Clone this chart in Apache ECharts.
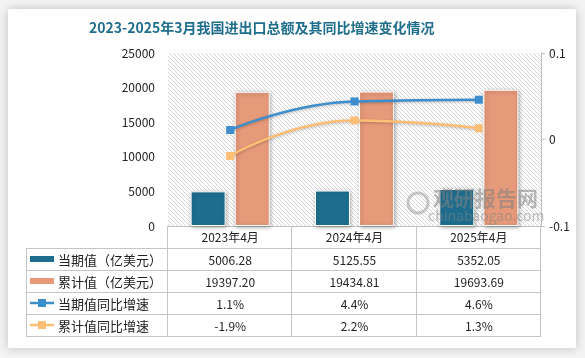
<!DOCTYPE html>
<html><head><meta charset="utf-8">
<script src="https://cdn.jsdelivr.net/npm/echarts@6/dist/echarts.min.js"></script>
<style>html,body{margin:0;padding:0;background:#fff}#c{width:585px;height:358px}</style>
</head><body><div id="c"></div>
<script>
const titleText = '2023-2025年3月我国进出口总额及其同比增速变化情况';
const categories = ['2023年4月', '2024年4月', '2025年4月'];
const seriesNames = ['当期值（亿美元）', '累计值（亿美元）', '当期值同比增速', '累计值同比增速'];
const currentValue = [5006.28, 5125.55, 5352.05];
const cumulativeValue = [19397.20, 19434.81, 19693.69];
const currentGrowth = [1.1, 4.4, 4.6];      // %
const cumulativeGrowth = [-1.9, 2.2, 1.3];  // %
const leftAxis = { min: 0, max: 25000, interval: 5000 };
const rightAxis = { min: -0.1, max: 0.1, interval: 0.1 };

const colors = ['#1E6D8F', '#E69A7A', '#3C8FCC', '#FFBE75'];
const font = '"Noto Sans CJK SC", "Noto Sans", sans-serif';

// hatch pattern
const pc = document.createElement('canvas');
pc.width = 4; pc.height = 4;
const pctx = pc.getContext('2d');
pctx.fillStyle = '#ffffff'; pctx.fillRect(0, 0, 4, 4);
pctx.fillStyle = '#d6d6d6';
for (let i = 0; i < 4; i++) pctx.fillRect(i, i, 1, 1);

const chart = echarts.init(document.getElementById('c'), null, { renderer: 'canvas' });
const G = { left: 168, right: 44, top: 53, bottom: 132 };
const option = {
  animation: false,
  backgroundColor: '#f4f4f4',
  title: {
    text: titleText, left: 89, top: 21, padding: 0,
    textStyle: { fontSize: 14, fontWeight: 'bold', color: '#1F6E8C', fontFamily: font }
  },
  grid: Object.assign({ show: true, borderWidth: 0, backgroundColor: { image: pc, repeat: 'repeat' } }, G),
  xAxis: {
    type: 'category', data: categories,
    axisLine: { show: true, lineStyle: { color: '#bfbfbf' } },
    axisTick: { show: false },
    axisLabel: { color: '#222', fontSize: 12, margin: 5, fontFamily: font }
  },
  yAxis: [
    {
      type: 'value', min: leftAxis.min, max: leftAxis.max, interval: leftAxis.interval,
      axisLine: { show: false }, axisTick: { show: false }, splitLine: { show: false },
      axisLabel: { color: '#222', fontSize: 12, margin: 13, fontFamily: font, formatter: v => String(v) }
    },
    {
      type: 'value', min: rightAxis.min, max: rightAxis.max, interval: rightAxis.interval,
      axisLine: { show: true, lineStyle: { color: '#bfbfbf' } },
      axisTick: { show: true, length: 4, lineStyle: { color: '#bfbfbf' } },
      splitLine: { show: false },
      axisLabel: { color: '#222', fontSize: 12, margin: 8, fontFamily: font,
        formatter: v => Math.abs(v) < 1e-9 ? '0' : String(Math.round(v * 10) / 10) }
    }
  ],
  series: [
    { name: seriesNames[0], type: 'bar', data: currentValue, barWidth: 35, barGap: '26%',
      itemStyle: { color: colors[0], borderColor: '#fff', borderWidth: 1, shadowBlur: 4, shadowColor: 'rgba(0,0,0,0.3)', shadowOffsetX: 1, shadowOffsetY: 1 } },
    { name: seriesNames[1], type: 'bar', data: cumulativeValue, barWidth: 35,
      itemStyle: { color: colors[1], borderColor: '#fff', borderWidth: 1, shadowBlur: 4, shadowColor: 'rgba(0,0,0,0.3)', shadowOffsetX: 1, shadowOffsetY: 1 } },
    { name: seriesNames[2], type: 'line', yAxisIndex: 1, smooth: true, data: currentGrowth.map(v => v / 100),
      symbol: 'rect', symbolSize: 8, itemStyle: { color: colors[2] },
      lineStyle: { color: colors[2], width: 2.5, shadowBlur: 3, shadowColor: 'rgba(0,0,0,0.25)', shadowOffsetY: 1 } },
    { name: seriesNames[3], type: 'line', yAxisIndex: 1, smooth: true, data: cumulativeGrowth.map(v => v / 100),
      symbol: 'rect', symbolSize: 8, itemStyle: { color: colors[3] },
      lineStyle: { color: colors[3], width: 2.5, shadowBlur: 3, shadowColor: 'rgba(0,0,0,0.25)', shadowOffsetY: 1 } }
  ]
};
chart.setOption(option);

// ---- table built from the arrays ----
const lineC = '#c4c4c4';
const plotL = G.left, plotR = 585 - G.right;
const tableTop = 358 - G.bottom;
const rowH = 22;
const headerB = tableTop + rowH;
const tableL = 26;
const rowsY = [headerB, headerB + rowH, headerB + 2 * rowH, headerB + 3 * rowH, headerB + 4 * rowH];
const tableB = rowsY[4];
const g = [];
// card
g.push({ type: 'rect', z: -10, shape: { x: 8, y: 9, width: 568, height: 339 },
  style: { fill: '#fff', shadowBlur: 10, shadowColor: 'rgba(0,0,0,0.22)' } });
// horizontal lines
rowsY.forEach(y => g.push({ type: 'line', z: 5, shape: { x1: tableL, y1: y + 0.5, x2: plotR - 1, y2: y + 0.5 }, style: { stroke: lineC, lineWidth: 1 } }));
// vertical lines
const colW = (plotR - plotL) / categories.length;
g.push({ type: 'line', z: 5, shape: { x1: tableL + 0.5, y1: headerB, x2: tableL + 0.5, y2: tableB + 1 }, style: { stroke: lineC, lineWidth: 1 } });
for (let i = 0; i <= categories.length; i++) {
  const x = Math.round(plotL + i * colW) - 0.5;
  g.push({ type: 'line', z: 5, shape: { x1: x, y1: tableTop, x2: x, y2: tableB + 1 }, style: { stroke: lineC, lineWidth: 1 } });
}
// value cells
const rowsText = [
  currentValue.map(v => v.toFixed(2)),
  cumulativeValue.map(v => v.toFixed(2)),
  currentGrowth.map(v => v.toFixed(1) + '%'),
  cumulativeGrowth.map(v => v.toFixed(1) + '%')
];
rowsText.forEach((row, r) => {
  row.forEach((t, i) => {
    const cx = chart.convertToPixel({ xAxisIndex: 0 }, i);
    g.push({ type: 'text', z: 6, style: { x: cx, y: rowsY[r] + rowH / 2 + 1, text: t, align: 'center', verticalAlign: 'middle',
      fill: '#222', font: '12px ' + font } });
  });
  const cy = rowsY[r] + rowH / 2;
  if (r < 2) {
    g.push({ type: 'rect', z: 6, shape: { x: 30, y: cy - 3, width: 24, height: 6 }, style: { fill: colors[r] } });
  } else {
    g.push({ type: 'line', z: 6, shape: { x1: 30, y1: cy, x2: 54, y2: cy }, style: { stroke: colors[r], lineWidth: 2.5 } });
    g.push({ type: 'rect', z: 7, shape: { x: 38, y: cy - 4, width: 8, height: 8 }, style: { fill: colors[r] } });
  }
  g.push({ type: 'text', z: 6, style: { x: 58, y: cy + 1, text: seriesNames[r], align: 'left', verticalAlign: 'middle',
    fill: '#222', font: '13px ' + font } });
});
// watermark
g.push({ type: 'circle', z: 20, shape: { cx: 418, cy: 203, r: 10 }, style: { fill: 'none', stroke: 'rgba(150,150,150,0.5)', lineWidth: 3 } });
g.push({ type: 'text', z: 20, style: { x: 433, y: 198, text: '观研报告网', align: 'left', verticalAlign: 'middle',
  fill: 'rgba(130,130,130,0.55)', font: 'bold 21px ' + font } });
g.push({ type: 'text', z: 20, style: { x: 428, y: 216, text: 'chinabaogao.com', align: 'left', verticalAlign: 'middle',
  fill: 'rgba(130,130,130,0.5)', font: '14px ' + font } });
chart.setOption({ graphic: { elements: g } });
</script></body></html>
